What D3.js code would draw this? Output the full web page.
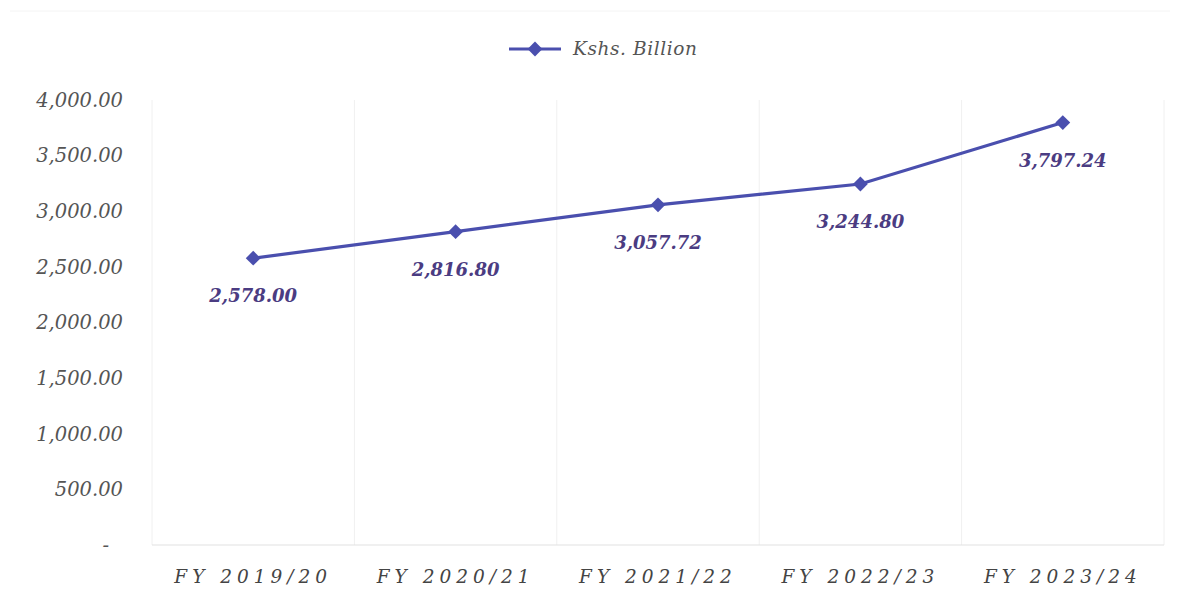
<!DOCTYPE html>
<html><head><meta charset="utf-8">
<script src="https://cdn.jsdelivr.net/npm/d3@7"></script>
<style>body{margin:0;background:#fff}</style>
</head><body>
<svg id="c" width="1179" height="597"></svg>
<script>
const categories = ["FY 2019/20","FY 2020/21","FY 2021/22","FY 2022/23","FY 2023/24"];
const values = [2578.00, 2816.80, 3057.72, 3244.80, 3797.24];
const yTicks = [0,500,1000,1500,2000,2500,3000,3500,4000];
const seriesName = "Kshs. Billion";

(function(){
const svg = d3.select("#c");
const L = 152, R = 1164, T = 100, B = 545;
const x = d3.scaleBand().domain(categories).range([L, R]);
const y = d3.scaleLinear().domain([0, 4000]).range([B, T]);
const lineColor = "#4a4fae";
const serif = "'DejaVu Serif', 'Liberation Serif', serif";

svg.append("line").attr("x1", 10).attr("x2", 1170).attr("y1", 11).attr("y2", 11)
  .attr("stroke", "#f4f4f4").attr("stroke-width", 1);

// vertical gridlines at band boundaries
const bounds = categories.map(c => x(c)).concat([R]);
svg.append("g").selectAll("line").data(bounds).join("line")
  .attr("x1", d => d).attr("x2", d => d).attr("y1", T).attr("y2", B)
  .attr("stroke", "#f0f0f0").attr("stroke-width", 1);

// baseline
svg.append("line").attr("x1", L).attr("x2", R).attr("y1", B).attr("y2", B)
  .attr("stroke", "#e2e2e2").attr("stroke-width", 1.2);

// y axis
const fmt = d => d === 0 ? "-" : d3.format(",.2f")(d);
const yAxis = d3.axisLeft(y).tickValues(yTicks).tickFormat(fmt).tickSize(0).tickPadding(29);
const ga = svg.append("g").attr("transform", `translate(${L},0)`).call(yAxis);
ga.select(".domain").remove();
ga.selectAll("text").attr("font-family", serif).attr("font-style", "italic")
  .attr("font-size", 19.5).attr("fill", "#555")
  .attr("dx", d => d === 0 ? -14 : 0);

// x axis
const xAxis = d3.axisBottom(x).tickSize(0).tickPadding(25);
const gx = svg.append("g").attr("transform", `translate(0,${B})`).call(xAxis);
gx.select(".domain").remove();
gx.selectAll("text").attr("font-family", serif).attr("font-style", "italic")
  .attr("font-size", 18.5).attr("fill", "#444").attr("letter-spacing", "5px");

// line
const cx = c => x(c) + x.bandwidth() / 2;
const line = d3.line().x((d, i) => cx(categories[i])).y(d => y(d));
svg.append("path").datum(values).attr("d", line)
  .attr("fill", "none").attr("stroke", lineColor).attr("stroke-width", 3.2);

const diamond = d3.symbol().type(d3.symbolSquare).size(110);
svg.append("g").selectAll("path").data(values).join("path")
  .attr("d", diamond)
  .attr("transform", (d, i) => `translate(${cx(categories[i])},${y(d)}) rotate(45)`)
  .attr("fill", lineColor);

// data labels
svg.append("g").selectAll("text").data(values).join("text")
  .attr("x", (d, i) => cx(categories[i]))
  .attr("y", d => y(d) + 44)
  .attr("text-anchor", "middle")
  .attr("font-family", serif).attr("font-style", "italic").attr("font-weight", "bold")
  .attr("font-size", 18).attr("fill", "#4b3c82")
  .text(d => d3.format(",.2f")(d));

// legend
const lg = svg.append("g").attr("transform", "translate(535,49)");
lg.append("line").attr("x1", -26).attr("x2", 26).attr("stroke", lineColor).attr("stroke-width", 3.2);
lg.append("path").attr("d", diamond).attr("transform", "rotate(45)").attr("fill", lineColor);
lg.append("text").attr("x", 38).attr("y", 6).attr("font-family", serif).attr("font-style", "italic")
  .attr("font-size", 18.5).attr("fill", "#555").attr("letter-spacing", "0.6px").text(seriesName);
})();
</script>
</body></html>
